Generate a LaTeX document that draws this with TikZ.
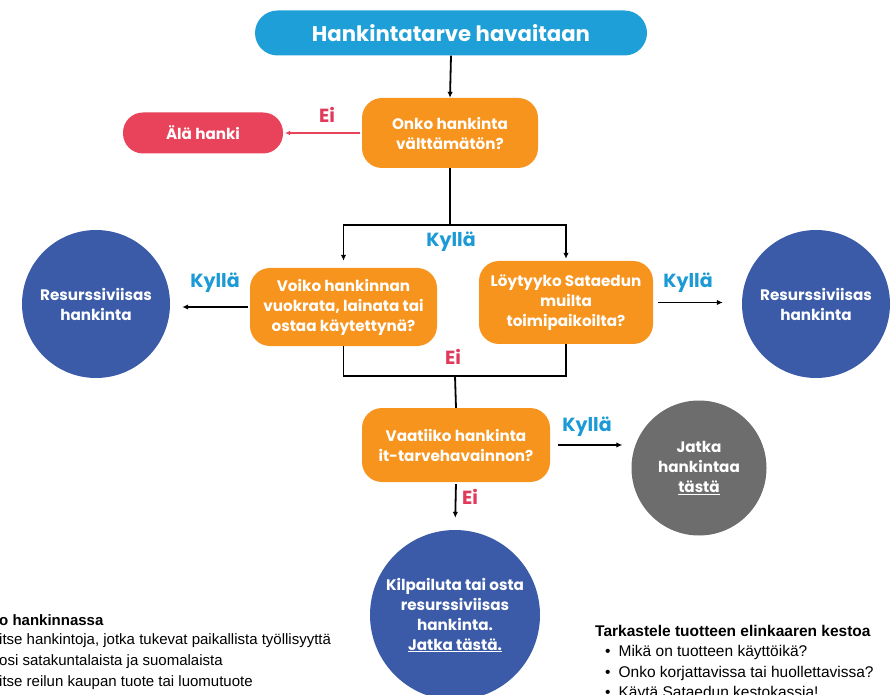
\documentclass[tikz,border=0pt]{standalone}
\usepackage{fontspec}
\setmainfont{Liberation Sans}
\newfontfamily\pop{Poppins}
\usetikzlibrary{arrows.meta}
\definecolor{topblue}{HTML}{1E9FD8}
\definecolor{orng}{HTML}{F7941D}
\definecolor{redbox}{HTML}{E8435A}
\definecolor{navy}{HTML}{3B5BA9}
\definecolor{grayc}{HTML}{6D6D6D}
\definecolor{lblue}{HTML}{1B9AD6}
\definecolor{lred}{HTML}{E0395A}
\begin{document}
\begin{tikzpicture}[x=1pt,y=-1pt,
  btxt/.style={font=\pop\bfseries\fontsize{15.2}{20}\selectfont, text=white, align=center, inner sep=0pt},
  qbox/.style={btxt, fill=orng, rounded corners=20pt},
  circ/.style={btxt, circle, fill=navy},
  lyes/.style={font=\pop\bfseries\fontsize{19}{22}\selectfont, text=lblue, inner sep=0pt},
  lno/.style={font=\pop\bfseries\fontsize{19}{22}\selectfont, text=lred, inner sep=0pt},
  conn/.style={line width=1.8pt, black},
  arr/.style={conn, -{Latex[length=6pt,width=5.5pt]}},
  btext/.style={font=\fontsize{15}{21}\selectfont, text=black, inner sep=0pt, anchor=west},
  rtext/.style={font=\fontsize{15.5}{21}\selectfont, text=black, inner sep=0pt, anchor=west}
]
\useasboundingbox (0,0) rectangle (895,695);
\clip (0,0) rectangle (895,695);

% nodes
\node[btxt, fill=topblue, rounded corners=22.5pt, minimum width=392pt, minimum height=45pt,
      font=\pop\bfseries\fontsize{21.2}{24}\selectfont] (top) at (451,33) {Hankintatarve havaitaan};
\node[qbox, minimum width=176pt, minimum height=70pt] (q1) at (450,133) {Onko hankinta\\välttämätön?};
\node[btxt, fill=redbox, rounded corners=20pt, minimum width=160pt, minimum height=41pt] (ala) at (203,133) {Älä hanki};
\node[qbox, minimum width=187pt, minimum height=78pt] (vb) at (343.5,307) {Voiko hankinnan\\vuokrata, lainata tai\\ostaa käytettynä?};
\node[qbox, minimum width=174pt, minimum height=83pt] (lb) at (566,302.5) {Löytyyko Sataedun\\muilta\\toimipaikoilta?};
\node[circ, minimum size=148pt] (c1) at (96,304) {Resurssiviisas\\hankinta};
\node[circ, minimum size=148pt] (c2) at (816,304) {Resurssiviisas\\hankinta};
\node[qbox, minimum width=188pt, minimum height=74pt] (q3) at (456,445) {Vaatiiko hankinta\\it-tarvehavainnon?};
\node[btxt, circle, fill=grayc, minimum size=135pt] (gc) at (699,468) {Jatka\\hankintaa\\\underline{tästä}};
\node[circ, minimum size=170pt] (bc) at (455,615) {Kilpailuta tai osta\\resurssiviisas\\hankinta.\\\underline{Jatka tästä.}};

% connectors
\draw[arr] (top.south) -- (q1.north);
\draw[line width=1.2pt, redbox, -{Latex[length=5pt,width=5pt]}, shorten <=2pt, shorten >=2pt] (q1.west) -- (ala.east);
\coordinate (sp) at (450,225);
\coordinate (mg) at (455,376);
\draw[conn] (q1.south) -- (sp);
\draw[arr, shorten >=7pt] (sp) -| (vb.north);
\draw[arr, shorten >=2pt] (sp) -| (lb.north);
\draw[arr, shorten <=2pt, shorten >=12pt] (vb.west) -- (vb.west -| c1.east);
\draw[arr, shorten <=5pt, shorten >=19pt] (lb.east) -- (lb.east -| c2.west);
\draw[conn] (vb.south) |- (mg);
\draw[conn] (lb.south) |- (mg);
\draw[conn] (mg) -- (q3.north);
\draw[arr, shorten <=8pt, shorten >=9pt] (q3.east) -- (q3.east -| gc.west);
\draw[arr, shorten <=2pt, shorten >=12pt] (q3.south) -- (bc.north);

% labels
\node[lno] (l1) at (327,115) {Ei};
\node[lyes] (l2) at (451,242) {Kyllä};
\node[lyes] (l3) at (215,283) {Kyllä};
\node[lyes] (l4) at (688,283) {Kyllä};
\node[lno] (l5) at (453,357) {Ei};
\node[lyes] (l6) at (587,427) {Kyllä};
\node[lno] (l7) at (470,497) {Ei};

% bottom-left text
\node[btext, font=\bfseries\fontsize{15}{21}\selectfont] (t1) at (-1,620) {o hankinnassa};
\node[btext] (t2) at (-1,641) {itse hankintoja, jotka tukevat paikallista työllisyyttä};
\node[btext] (t3) at (-1,662) {osi satakuntalaista ja suomalaista};
\node[btext] (t4) at (-1,683) {itse reilun kaupan tuote tai luomutuote};

% bottom-right text
\node[rtext, font=\bfseries\fontsize{15.5}{21}\selectfont] (r1) at (595,631) {Tarkastele tuotteen elinkaaren kestoa};
\node[rtext] (r2) at (605,652) {\textbullet\hspace{8pt}Mikä on tuotteen käyttöikä?};
\node[rtext] (r3) at (605,673) {\textbullet\hspace{8pt}Onko korjattavissa tai huollettavissa?};
\node[rtext] (r4) at (605,693) {\textbullet\hspace{8pt}Käytä Sataedun kestokassia!};
\end{tikzpicture}
\end{document}
